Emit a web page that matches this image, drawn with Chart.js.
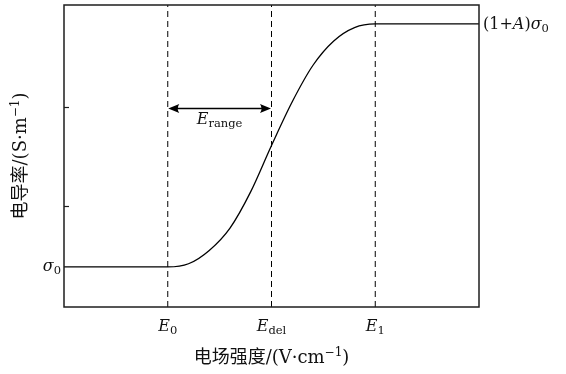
<!DOCTYPE html>
<html><head><meta charset="utf-8">
<script src="https://cdn.jsdelivr.net/npm/chart.js@4/dist/chart.umd.min.js"></script>
<style>html,body{margin:0;padding:0;background:#fff}</style>
</head><body>
<canvas id="c" width="566" height="374"></canvas>
<script>
// ---- data ----
const fieldStrength = [0, 0.5, 1.0, 1.2, 1.4, 1.6, 1.8, 2.0, 2.2, 2.4, 2.6, 2.8, 3.0, 3.5, 4.0];
const conductivity  = [0, 0, 0, 0.013, 0.068, 0.16, 0.31, 0.5, 0.68, 0.83, 0.93, 0.985, 1.0, 1.0, 1.0];
const markerPositions = [1, 2, 3];
const markerMain = ['E', 'E', 'E'];
const markerSubs = ['0', 'del', '1'];
const yTickValues = [0.25, 0.66];
const sigmaLow = 0;     // σ0
const sigmaHigh = 1;    // (1+A)σ0
const rangeArrowY = 0.655;
const xTitleText = '电场强度/(V·cm';
const yTitleText = '电导率/(S·m';
const yMin = -0.165, yMax = 1.078;

const FAM = "'DejaVu Serif', 'Noto Sans CJK SC', serif";

function drawRich(ctx, parts, x, y, align) {
  let w = 0;
  parts.forEach(p => { ctx.font = p.font; p.w = ctx.measureText(p.t).width; w += p.w + (p.gap || 0); });
  let cx = align === 'center' ? x - w / 2 : (align === 'right' ? x - w : x);
  ctx.textAlign = 'left'; ctx.textBaseline = 'alphabetic';
  parts.forEach(p => { ctx.font = p.font; ctx.fillText(p.t, cx, y + (p.dy || 0)); cx += p.w + (p.gap || 0); });
}
const it = () => 'italic 16px ' + FAM;
const rm = () => '16px ' + FAM;
const sb = '11.5px ' + FAM;

const annot = {
  id: 'annot',
  afterDatasetsDraw(chart) {
    const { ctx, chartArea: a, scales: { x, y } } = chart;
    ctx.save();
    ctx.fillStyle = '#111'; ctx.strokeStyle = '#1e1e1e';
    // frame
    ctx.lineWidth = 1.5;
    ctx.strokeRect(a.left, a.top, a.right - a.left, a.bottom - a.top);
    // inward ticks on left axis
    ctx.lineWidth = 1.2;
    yTickValues.forEach(v => {
      const py = Math.round(y.getPixelForValue(v)) + 0.5;
      ctx.beginPath(); ctx.moveTo(a.left, py); ctx.lineTo(a.left + 5, py); ctx.stroke();
    });
    // E_range arrow
    const x1 = x.getPixelForValue(markerPositions[0]), x2 = x.getPixelForValue(markerPositions[1]);
    const ay = Math.round(y.getPixelForValue(rangeArrowY)) + 0.5;
    ctx.strokeStyle = '#000'; ctx.fillStyle = '#000'; ctx.lineWidth = 1.3;
    ctx.beginPath(); ctx.moveTo(x1 + 4, ay); ctx.lineTo(x2 - 4, ay); ctx.stroke();
    const head = (tx, dir) => {
      ctx.beginPath(); ctx.moveTo(tx, ay);
      ctx.lineTo(tx + dir * 11, ay - 4.5);
      ctx.quadraticCurveTo(tx + dir * 8, ay, tx + dir * 11, ay + 4.5);
      ctx.closePath(); ctx.fill();
    };
    head(x1 + 0.5, 1); head(x2 - 0.5, -1);
    ctx.fillStyle = '#111';
    drawRich(ctx, [{ t: 'E', font: it() }, { t: 'range', font: sb, dy: 3 }], (x1 + x2) / 2, ay + 15, 'center');
    // x marker labels
    markerPositions.forEach((p, i) => {
      drawRich(ctx, [{ t: markerMain[i], font: it() }, { t: markerSubs[i], font: sb, dy: 3 }], x.getPixelForValue(p), 331, 'center');
    });
    // y labels
    drawRich(ctx, [{ t: 'σ', font: it() }, { t: '0', font: sb, dy: 3 }], a.left - 3, y.getPixelForValue(sigmaLow) + 4, 'right');
    drawRich(ctx, [{ t: '(1+', font: rm() }, { t: 'A', font: it() }, { t: ')', font: rm() }, { t: 'σ', font: it() }, { t: '0', font: sb, dy: 3 }],
      a.right + 4, y.getPixelForValue(sigmaHigh) + 5, 'left');
    // axis titles
    const tf = '18px ' + FAM;
    const sf = '12px ' + FAM;
    drawRich(ctx, [{ t: xTitleText, font: tf }, { t: '−1', font: sf, dy: -7 }, { t: ')', font: tf }], (a.left + a.right) / 2, 363, 'center');
    ctx.translate(26, (a.top + a.bottom) / 2);
    ctx.rotate(-Math.PI / 2);
    drawRich(ctx, [{ t: yTitleText, font: tf }, { t: '−1', font: sf, dy: -7 }, { t: ')', font: tf }], 0, 0, 'center');
    ctx.restore();
  }
};

const dashed = markerPositions.map(p => ({
  data: [{ x: p, y: yMin }, { x: p, y: yMax }],
  borderColor: '#000', borderWidth: 1, borderDash: [6, 4], pointRadius: 0, fill: false
}));

new Chart(document.getElementById('c'), {
  type: 'line',
  data: {
    datasets: [
      {
        data: fieldStrength.map((e, i) => ({ x: e, y: conductivity[i] })),
        borderColor: '#000', borderWidth: 1.3, pointRadius: 0, fill: false,
        cubicInterpolationMode: 'monotone'
      },
      ...dashed
    ]
  },
  options: {
    responsive: false, animation: false, devicePixelRatio: 1,
    layout: { padding: { left: 64, right: 87, top: 5, bottom: 67 } },
    plugins: { legend: { display: false }, tooltip: { enabled: false } },
    scales: {
      x: { type: 'linear', min: 0, max: 4, display: false },
      y: { type: 'linear', min: yMin, max: yMax, display: false }
    }
  },
  plugins: [annot]
});
</script>
</body></html>
